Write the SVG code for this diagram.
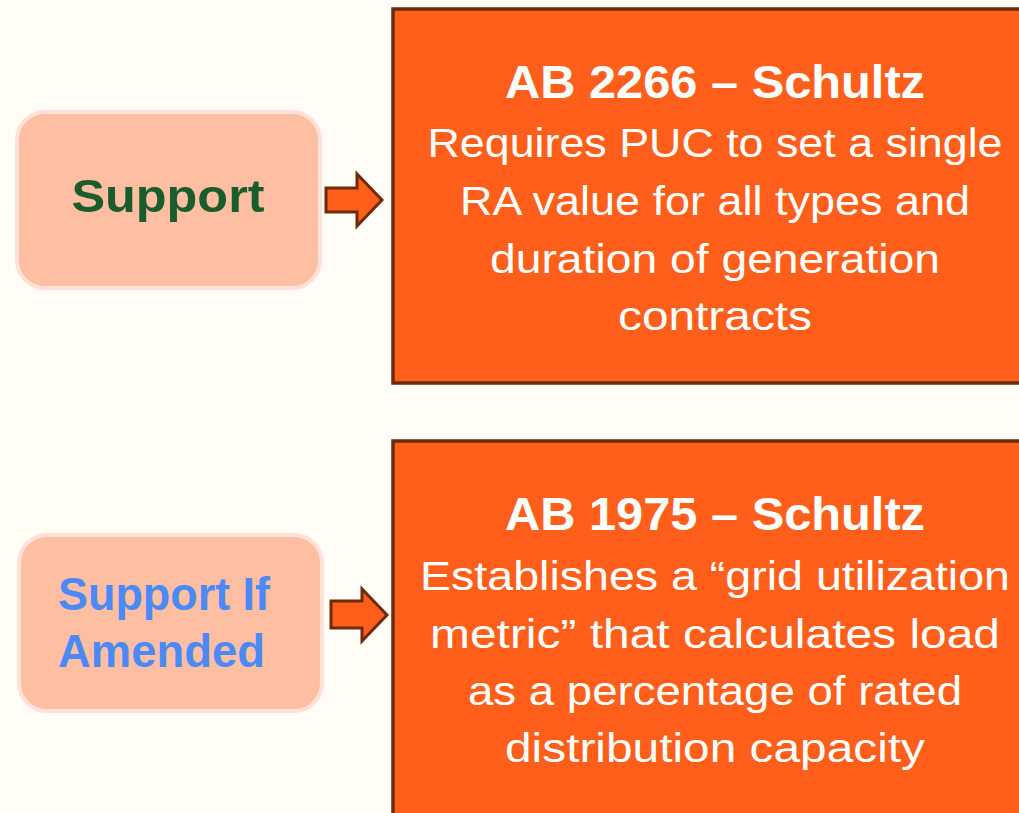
<svg xmlns="http://www.w3.org/2000/svg" width="1019" height="813" viewBox="0 0 1019 813">
<style>
.bg{fill:#FFFDF6}
.bill{fill:#FF5F1A;stroke:#6E2B0C;stroke-width:3.5}
.pos{fill:#FDBEA2;stroke:#FFE1D7;stroke-width:4}
.arrow{fill:#FF5F1A;stroke:#6E2B0C;stroke-width:3;stroke-linejoin:miter}
.t{font-family:"Liberation Sans",Arial,sans-serif;fill:#FFFFFF;text-anchor:middle}
.title{font-size:46px;font-weight:bold}
.body{font-size:40px}
.lab{font-family:"Liberation Sans",Arial,sans-serif;font-weight:bold;font-size:46px}
</style>
<rect class="bg" x="0" y="0" width="1019" height="813"/>
<g id="support">
<rect class="pos" x="17" y="112" width="303" height="176" rx="28"/>
<text class="lab" x="168" y="212" text-anchor="middle" fill="#1B5C2C" textLength="193" lengthAdjust="spacingAndGlyphs">Support</text>
</g>
<g id="support-if-amended">
<rect class="pos" x="19" y="535" width="303" height="176" rx="28"/>
<text class="lab" x="58" y="610" fill="#4B8AF6" textLength="212" lengthAdjust="spacingAndGlyphs">Support If</text>
<text class="lab" x="58" y="667" fill="#4B8AF6" textLength="207" lengthAdjust="spacingAndGlyphs">Amended</text>
</g>
<g id="ab2266">
<rect class="bill" x="393" y="9" width="640" height="374"/>
<text class="t title" x="715" y="98" textLength="420" lengthAdjust="spacingAndGlyphs">AB 2266 – Schultz</text>
<text class="t body" x="715" y="157" textLength="575" lengthAdjust="spacingAndGlyphs">Requires PUC to set a single</text>
<text class="t body" x="715" y="215" textLength="510" lengthAdjust="spacingAndGlyphs">RA value for all types and</text>
<text class="t body" x="715" y="273" textLength="450" lengthAdjust="spacingAndGlyphs">duration of generation</text>
<text class="t body" x="715" y="330" textLength="194" lengthAdjust="spacingAndGlyphs">contracts</text>
</g>
<g id="ab1975">
<rect class="bill" x="393" y="441" width="640" height="390"/>
<text class="t title" x="715" y="530" textLength="420" lengthAdjust="spacingAndGlyphs">AB 1975 – Schultz</text>
<text class="t body" x="715" y="590" textLength="590" lengthAdjust="spacingAndGlyphs">Establishes a “grid utilization</text>
<text class="t body" x="715" y="648" textLength="570" lengthAdjust="spacingAndGlyphs">metric” that calculates load</text>
<text class="t body" x="715" y="705" textLength="494" lengthAdjust="spacingAndGlyphs">as a percentage of rated</text>
<text class="t body" x="715" y="762" textLength="420" lengthAdjust="spacingAndGlyphs">distribution capacity</text>
</g>
<g id="connectors">
<polygon class="arrow" points="326,188 357,188 357,174 382,200 357,226 357,212 326,212"/>
<polygon class="arrow" points="331,601 362,601 362,589 387,615 362,641 362,628 331,628"/>
</g>
</svg>
